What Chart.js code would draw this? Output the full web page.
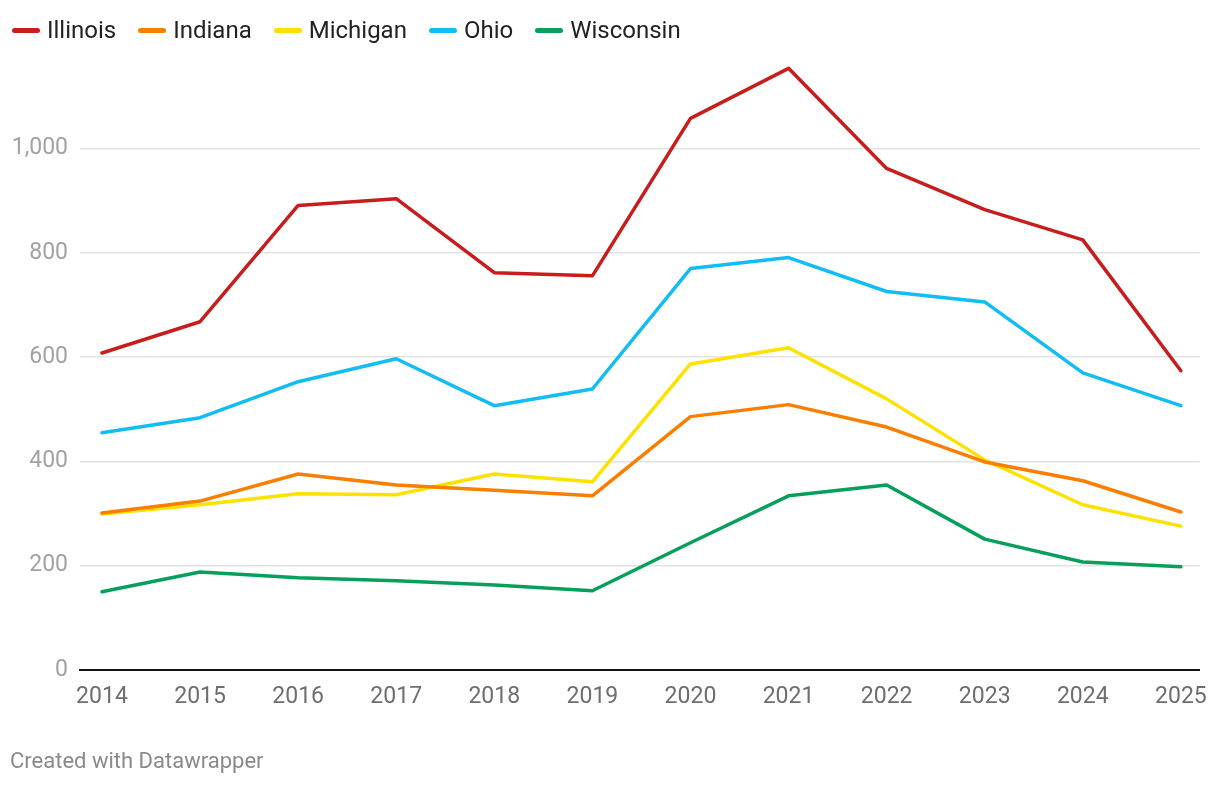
<!DOCTYPE html>
<html>
<head>
<meta charset="utf-8">
<script src="https://cdn.jsdelivr.net/npm/chart.js@4"></script>
<style>
  html, body { margin:0; padding:0; background:#fff; }
  body { width:1220px; height:786px; position:relative; overflow:hidden; font-family: Roboto, "Noto Sans", sans-serif; }
  #legend { position:absolute; left:12px; top:16px; display:flex; align-items:center; font-size:24px; color:#222; }
  .item { display:flex; align-items:center; margin-right:22px; }
  .swatch { width:28px; height:5px; border-radius:3px; margin-right:7px; }
  #wrap { position:absolute; left:0; top:0; width:1220px; height:786px; }
  #footer { position:absolute; left:10px; top:748px; font-size:22px; color:#8a8a8a; }
</style>
</head>
<body>
<div id="wrap"><canvas id="c"></canvas></div>
<div id="legend"></div>
<div id="footer">Created with Datawrapper</div>
<script>
const years = [2014,2015,2016,2017,2018,2019,2020,2021,2022,2023,2024,2025];
const illinois  = [608,668,891,904,762,756,1058,1154,962,883,825,574];
const indiana   = [301,324,376,355,345,334,486,509,466,399,363,303];
const michigan  = [299,317,338,336,376,361,587,618,520,403,317,276];
const ohio      = [455,484,553,597,507,539,770,791,726,706,570,507];
const wisconsin = [150,188,177,171,163,152,244,334,355,251,207,198];
const yTicks = [0,200,400,600,800,1000];

const seriesNames = ['Illinois','Indiana','Michigan','Ohio','Wisconsin'];
const seriesData = [illinois, indiana, michigan, ohio, wisconsin];
const seriesColors = ['#c71e1d','#fa7f00','#ffe100','#12bcf5','#06a05c'];

const legend = document.getElementById('legend');
seriesNames.forEach((n,i)=>{
  const d = document.createElement('div'); d.className='item';
  d.innerHTML = '<span class="swatch" style="background:'+seriesColors[i]+'"></span>' + n;
  legend.appendChild(d);
});

const datasets = seriesNames.map((n,i)=>({
  label:n,
  data: years.map((y,j)=>({x:y, y:seriesData[i][j]})),
  borderColor: seriesColors[i],
  backgroundColor: seriesColors[i],
  borderWidth: 3.5,
  pointRadius: 0,
  tension: 0,
  borderJoinStyle:'round',
  borderCapStyle:'round'
}));

new Chart(document.getElementById('c'), {
  type:'line',
  data:{ datasets },
  options:{
    responsive:true,
    maintainAspectRatio:false,
    animation:false,
    layout:{ padding:{ left:0, right:16, top:60, bottom:66 } },
    plugins:{ legend:{display:false}, tooltip:{enabled:false} },
    scales:{
      x:{
        type:'linear',
        min:2013.776, max:2025.193,
        afterBuildTicks: s => { s.ticks = years.map(v=>({value:v})); },
        afterFit: s => { s.height = 50; },
        grid:{ display:false, drawTicks:false },
        border:{ display:true, color:'#111', width:2 },
        ticks:{ font:{family:'Roboto', size:23}, color:'#6e6e6e', padding:13, maxRotation:0, autoSkip:false,
          callback: v => String(v) }
      },
      y:{
        min:0, max:1170,
        afterBuildTicks: s => { s.ticks = yTicks.map(v=>({value:v})); },
        afterFit: s => { s.width = 80; },
        grid:{ color:'#e3e3e3', lineWidth:1.5, drawTicks:false },
        border:{ display:false },
        ticks:{ font:{family:'Roboto', size:23}, color:'#a2a2a2', padding:12,
          callback: v => v.toLocaleString('en-US') }
      }
    }
  }
});
</script>
</body>
</html>
